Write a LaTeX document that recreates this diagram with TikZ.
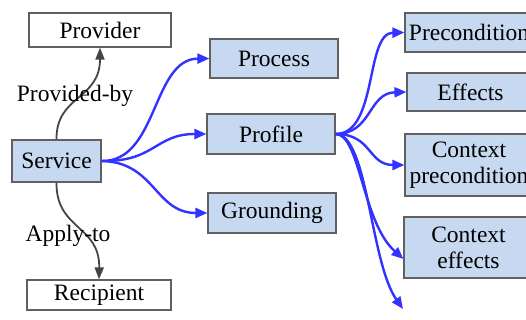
\documentclass[tikz,border=0pt]{standalone}
\usepackage{fontspec}
\newfontfamily\diagfont{Liberation Serif}
\usetikzlibrary{arrows.meta}

\definecolor{boxblue}{HTML}{C6D9F1}
\definecolor{linkblue}{HTML}{3333FF}
\definecolor{darkline}{HTML}{454545}

\begin{document}
\begin{tikzpicture}[x=1pt, y=-1pt,
    box/.style={draw=gray!75!black, line width=1.2pt, inner sep=0pt, align=center,
        font=\diagfont\fontsize{23.5}{26}\selectfont},
    bluebox/.style={box, fill=boxblue},
    whitebox/.style={box, fill=white},
    link/.style={linkblue, line width=2.4pt, -{Triangle[length=12pt,width=10pt]}},
    relation/.style={darkline, line width=1.8pt, -{Triangle[length=12pt,width=9pt]}},
    tag/.style={font=\diagfont\fontsize{23.5}{26}\selectfont, inner sep=0pt}]

    \clip (0,0) rectangle (526,320);

    % Left column
    \node[whitebox, minimum width=142pt, minimum height=34pt] (provider) at (100,30) {Provider};
    \node[bluebox, minimum width=89pt, minimum height=42pt] (service) at (56.5,161) {Service};
    \node[whitebox, minimum width=144pt, minimum height=30pt] (recipient) at (99,295) {Recipient};

    % Middle column
    \node[bluebox, minimum width=128pt, minimum height=39pt] (process) at (274,58.5) {Process};
    \node[bluebox, minimum width=128pt, minimum height=40pt] (profile) at (271,134) {Profile};
    \node[bluebox, minimum width=128pt, minimum height=40pt] (grounding) at (272,213) {Grounding};

    % Right column (runs past the edge)
    \node[bluebox, minimum width=128pt, minimum height=39pt] (precond) at (469,32.5) {Precondition};
    \node[bluebox, minimum width=127pt, minimum height=38pt] (effects) at (470.5,92) {Effects};
    \node[bluebox, minimum width=128pt, minimum height=62pt] (ctxprecond) at (469,165) {Context\\precondition};
    \node[bluebox, minimum width=129pt, minimum height=61pt] (ctxeffects) at (468.5,247.5) {Context\\effects};
    \coordinate (more) at (403,309);

    % Service relations
    \draw[relation] (service.north) .. controls (56,95) and (100,100) .. (provider.south);
    \draw[relation] (service.south) .. controls (56,230) and (100,225) .. (recipient.north);
    \node[tag] (providedby) at (75,96) {Provided-by};
    \node[tag] (applyto) at (68,236) {Apply-to};

    % Service parts
    \draw[link] (service.east) .. controls (158,162) and (152,59) .. (process.west);
    \draw[link] (service.east) .. controls (155,162) and (155,134) .. (profile.west);
    \draw[link] (service.east) .. controls (155,162) and (155,213) .. (grounding.west);

    % Profile parts
    \draw[link] (profile.east) .. controls (378,134) and (365,33) .. (precond.west);
    \draw[link] (profile.east) .. controls (372,134) and (368,93) .. (effects.west);
    \draw[link] (profile.east) .. controls (372,134) and (368,165) .. (ctxprecond.west);
    \draw[link] (profile.east) .. controls (360,134) and (362,222) .. (ctxeffects.190);
    \draw[link] (profile.east) .. controls (368,134) and (370,262) .. (more);
\end{tikzpicture}
\end{document}
